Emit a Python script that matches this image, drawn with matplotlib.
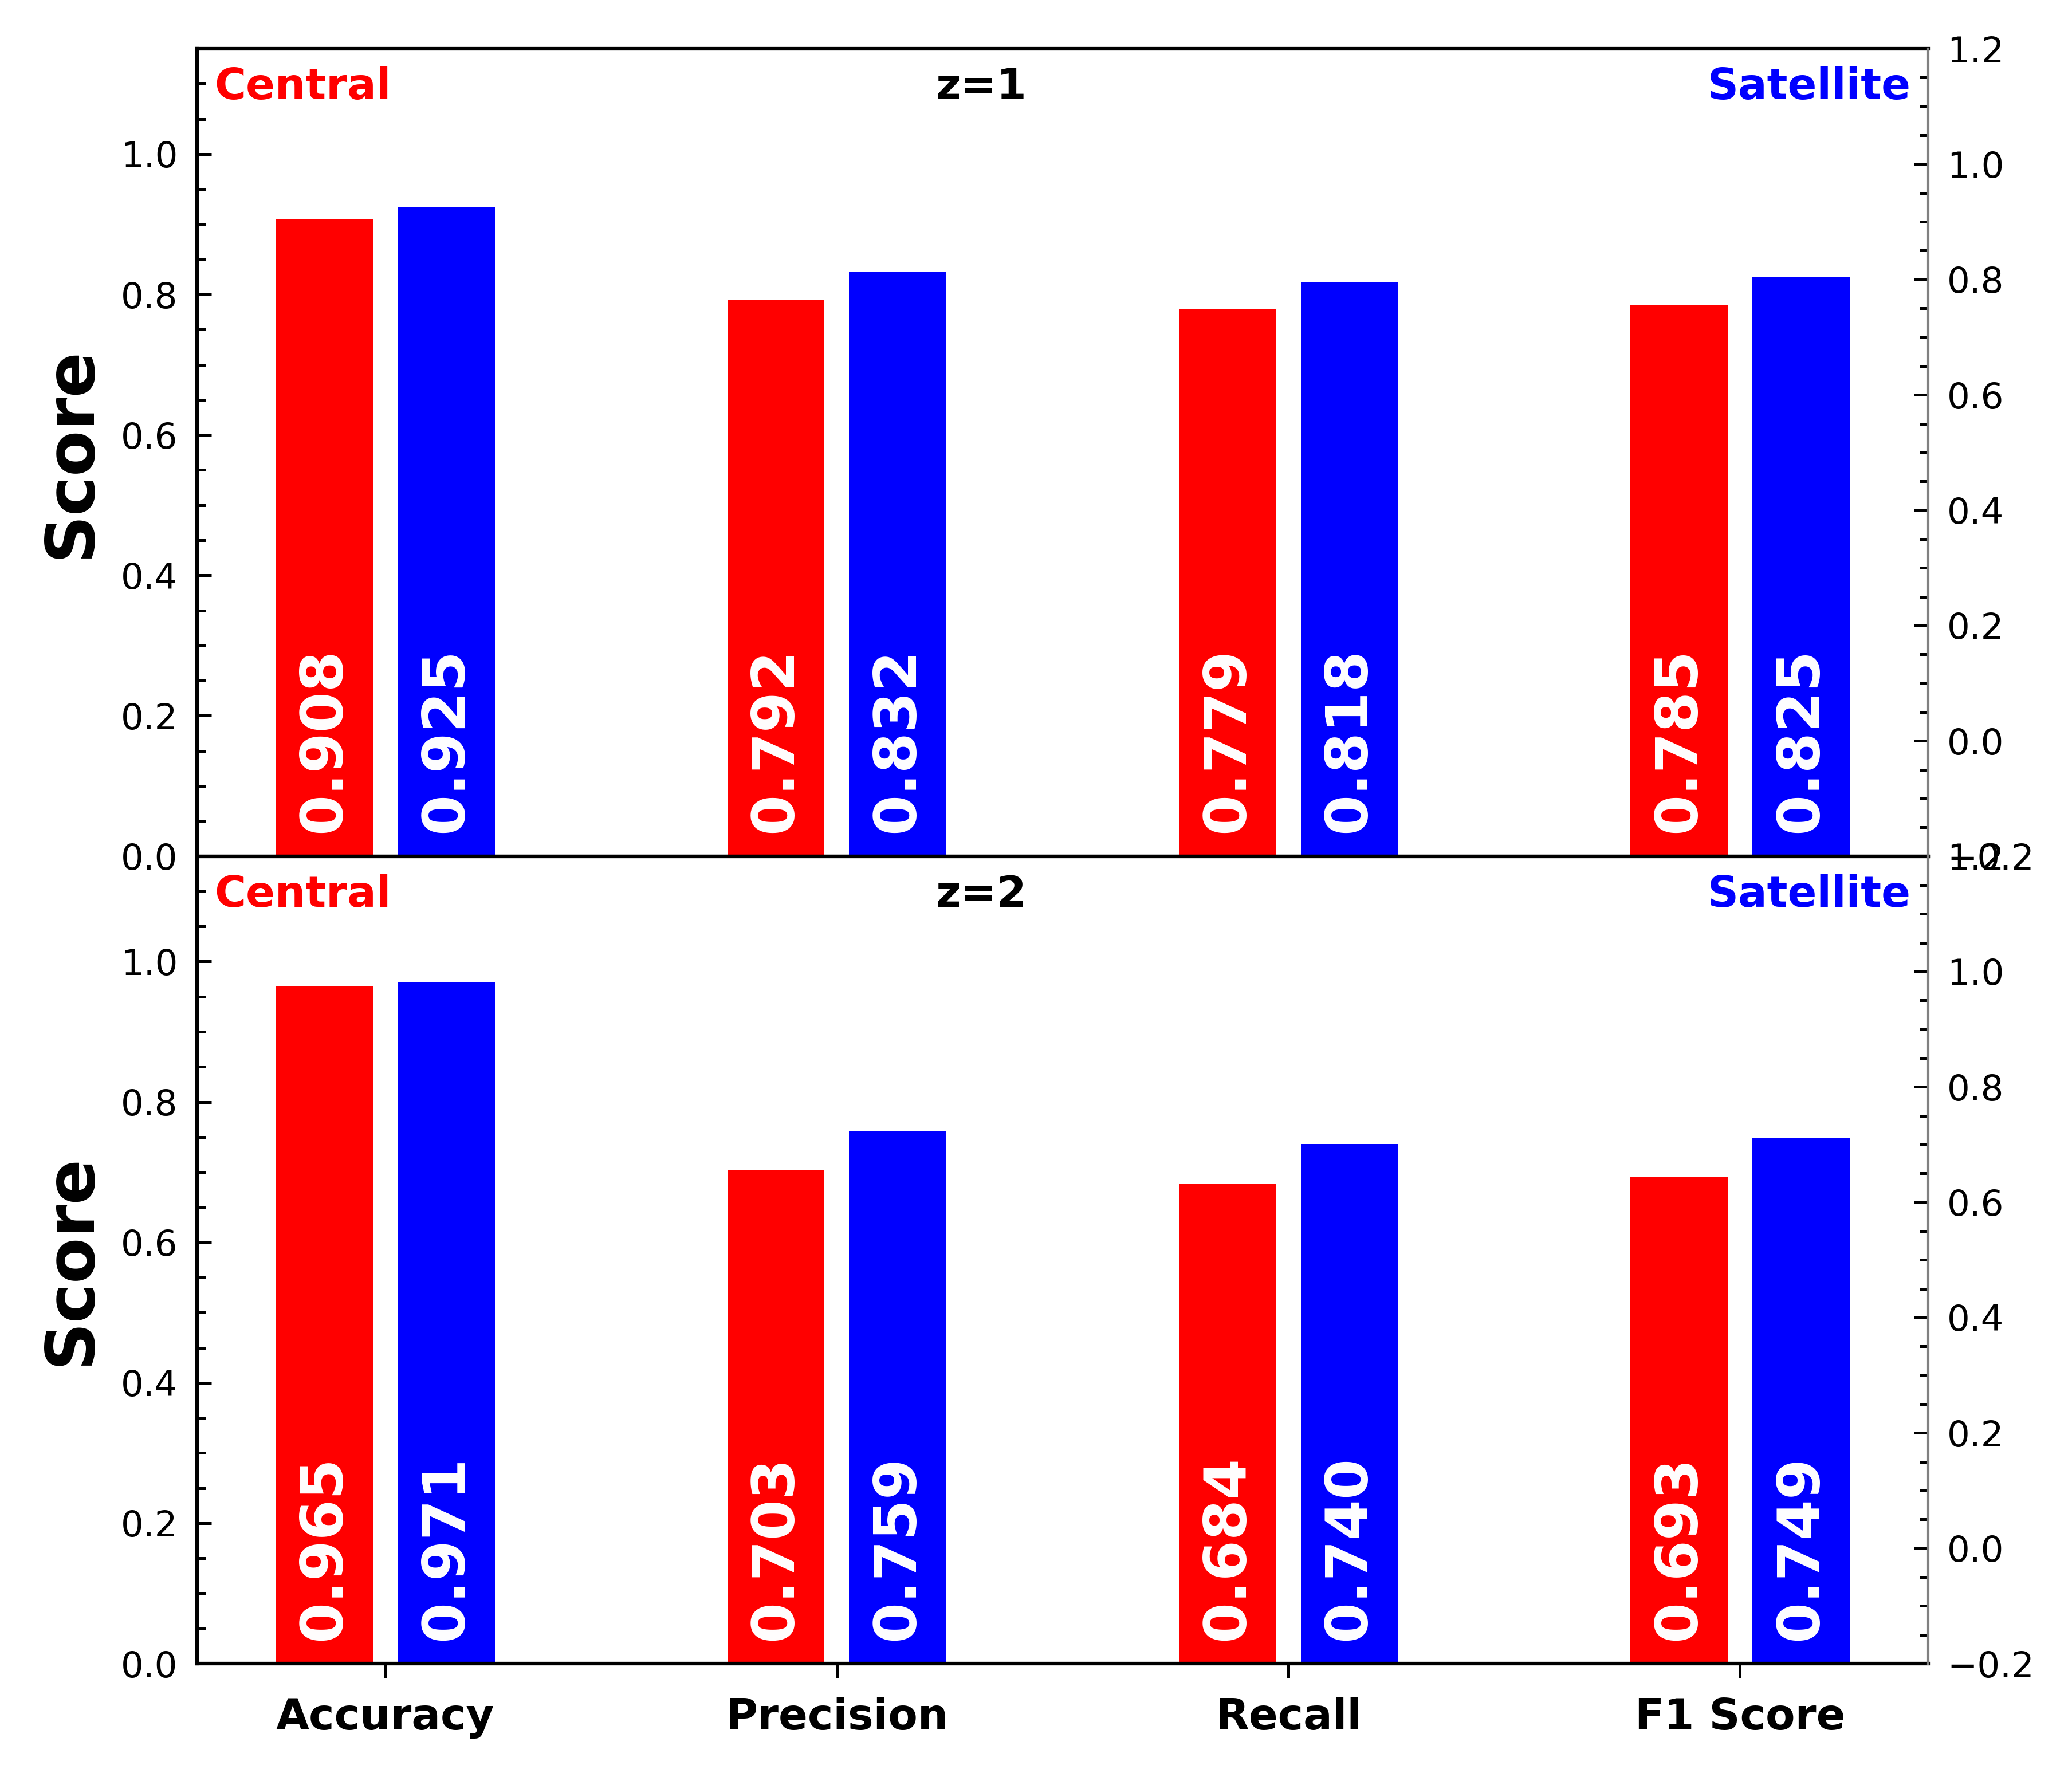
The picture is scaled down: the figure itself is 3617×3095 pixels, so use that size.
import matplotlib
matplotlib.use("Agg")
import matplotlib.pyplot as plt
import numpy as np
from matplotlib.ticker import MultipleLocator

metrics = ["Accuracy", "Precision", "Recall", "F1 Score"]
panel_titles = ["z=1", "z=2"]
central_z1 = [0.908, 0.792, 0.779, 0.785]
satellite_z1 = [0.925, 0.832, 0.818, 0.825]
central_z2 = [0.965, 0.703, 0.684, 0.693]
satellite_z2 = [0.971, 0.759, 0.740, 0.749]

central_all = [central_z1, central_z2]
satellite_all = [satellite_z1, satellite_z2]

plt.rcParams['font.family'] = ['DejaVu Sans']

fig = plt.figure(figsize=(3617 / 300, 3095 / 300), dpi=300)
axes = fig.subplots(2, 1, sharex=True)
fig.subplots_adjust(left=0.0951, right=0.9306, top=0.9725, bottom=0.0617, hspace=0)

x = np.arange(len(metrics))
w = 0.215
off = 0.135

for i, ax in enumerate(axes):
    cvals = central_all[i]
    svals = satellite_all[i]
    ax.bar(x - off, cvals, w, color='red')
    ax.bar(x + off, svals, w, color='blue')
    for xi, v in zip(x - off, cvals):
        ax.text(xi, 0.033, f"{v:.3f}", rotation=90, ha='center', va='bottom',
                color='white', fontsize=24.5, fontweight='bold')
    for xi, v in zip(x + off, svals):
        ax.text(xi, 0.033, f"{v:.3f}", rotation=90, ha='center', va='bottom',
                color='white', fontsize=24.5, fontweight='bold')
    ax.set_ylim(0, 1.15)
    ax.yaxis.set_major_locator(MultipleLocator(0.2))
    ax.yaxis.set_minor_locator(MultipleLocator(0.05))
    ax.tick_params(axis='y', which='major', direction='in', length=6, width=1.2,
                   labelsize=15, pad=8)
    ax.tick_params(axis='y', which='minor', direction='in', length=3.5, width=1.2)
    ax.set_ylabel("Score", fontsize=28, fontweight='bold', labelpad=7)
    for s in ['left', 'top', 'bottom']:
        ax.spines[s].set_linewidth(1.5)
    ax.spines['right'].set_visible(False)

    ax.text(0.01, 0.978, "Central", transform=ax.transAxes, color='red',
            fontsize=18, fontweight='bold', ha='left', va='top')
    ax.text(0.99, 0.978, "Satellite", transform=ax.transAxes, color='blue',
            fontsize=18, fontweight='bold', ha='right', va='top')
    ax.text(0.453, 0.978, panel_titles[i], transform=ax.transAxes, color='black',
            fontsize=18, fontweight='bold', ha='center', va='top')

    ax2 = ax.twinx()
    ax2.set_ylim(-0.2, 1.2)
    ax2.yaxis.set_major_locator(MultipleLocator(0.2))
    ax2.yaxis.set_minor_locator(MultipleLocator(0.05))
    ax2.tick_params(axis='y', which='major', direction='in', length=6, width=1.2,
                    labelsize=15, pad=8)
    ax2.tick_params(axis='y', which='minor', direction='in', length=3.5, width=1.2)
    for s in ['left', 'top', 'bottom']:
        ax2.spines[s].set_visible(False)
    ax2.spines['right'].set_color('gray')
    ax2.spines['right'].set_linewidth(1.0)

axes[0].tick_params(axis='x', which='both', length=0, labelbottom=False)
axes[1].set_xticks(x)
axes[1].set_xticklabels(metrics, fontsize=18, fontweight='bold')
axes[1].tick_params(axis='x', direction='out', length=6, width=1.2, pad=8)

fig.savefig("out.png", dpi=300)
